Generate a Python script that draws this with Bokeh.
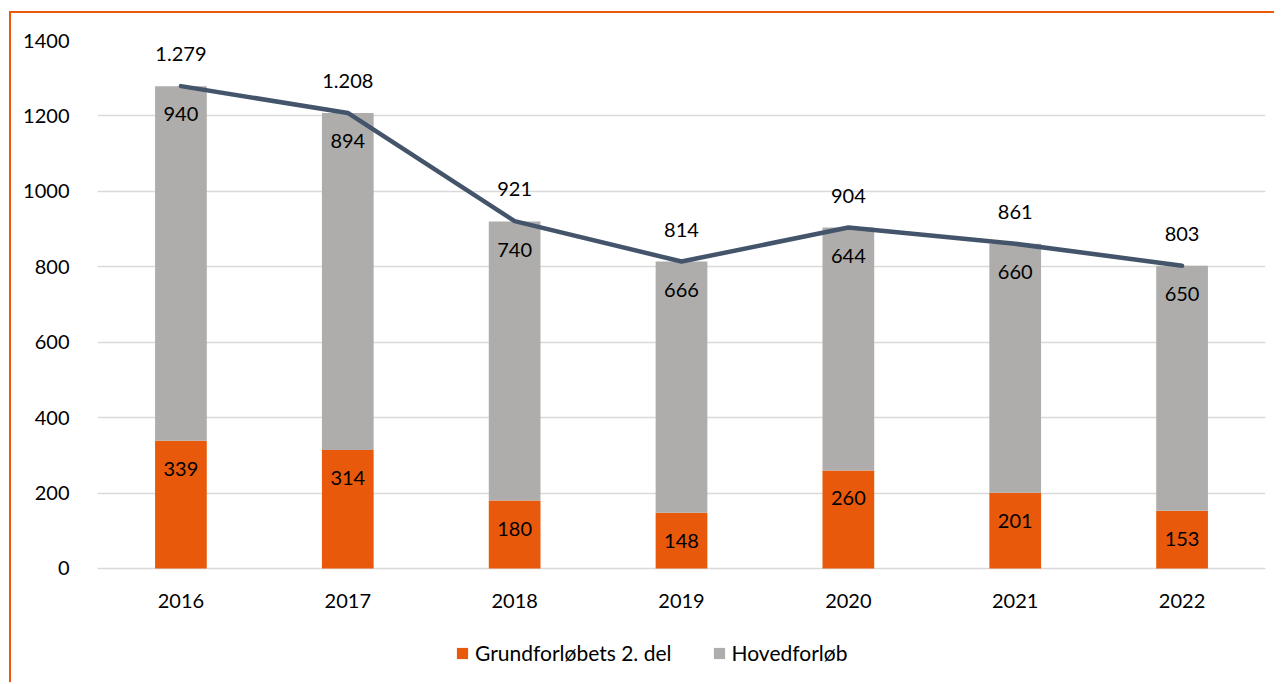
from bokeh.plotting import figure
from bokeh.models import ColumnDataSource, LabelSet, Legend, LegendItem, Range1d, FactorRange
from bokeh.core.properties import value
from bokeh.embed import file_html
from bokeh.resources import INLINE

years = ["2016", "2017", "2018", "2019", "2020", "2021", "2022"]
grund = [339, 314, 180, 148, 260, 201, 153]
hoved = [940, 894, 740, 666, 644, 660, 650]
total = [1279, 1208, 921, 814, 904, 861, 803]
y_ticks = [0, 200, 400, 600, 800, 1000, 1200, 1400]

ORANGE = "#E8590C"
GRAY = "#AEADAB"
LINE = "#44546A"
FONT = "Lato"
FS = "20px"

src = ColumnDataSource(dict(
    year=years,
    grund=grund,
    hoved=hoved,
    stack_top=[g + h for g, h in zip(grund, hoved)],
    total=total,
    grund_lbl=[str(v) for v in grund],
    hoved_lbl=[str(v) for v in hoved],
    total_lbl=[f"{v:,}".replace(",", ".") for v in total],
))

# frame spans down to the canvas bottom so the legend can sit inside it
p = figure(x_range=FactorRange(*years, range_padding=0), y_range=Range1d(-307.6, 1400),
           width=1265, height=671, output_backend="svg", toolbar_location=None,
           x_axis_location=None,
           min_border_left=86, min_border_right=11, min_border_top=27, min_border_bottom=0)
p.styles = {"border-left": f"2px solid {ORANGE}", "border-top": f"2px solid {ORANGE}",
            "margin-top": "11px", "margin-left": "9px"}
p.outline_line_color = None
p.background_fill_color = "white"
p.border_fill_color = "white"

p.xgrid.grid_line_color = None
p.ygrid.grid_line_color = "#D9D9D9"
p.ygrid.grid_line_width = 1.5
p.ygrid.ticker = y_ticks

rs = p.vbar_stack(["grund", "hoved"], x="year", width=0.31, color=[ORANGE, GRAY],
                  line_width=0, source=src)
p.line(x="year", y="total", source=src, line_width=4.5, color=LINE,
       line_join="round", line_cap="round")

common = dict(source=src, text_font=value(FONT), text_font_size=value(FS), text_color="#000000",
              text_align="center", text_baseline="middle")
p.add_layout(LabelSet(x="year", y="total", text="total_lbl", y_offset=32, **common))
p.add_layout(LabelSet(x="year", y="stack_top", text="hoved_lbl", y_offset=-28, **common))
p.add_layout(LabelSet(x="year", y="grund", text="grund_lbl", y_offset=-28, **common))
# category labels under the baseline
p.add_layout(LabelSet(x="year", y=0, text="year", y_offset=-33, **common))

p.yaxis.ticker = y_ticks
p.yaxis.axis_line_color = None
p.yaxis.major_tick_line_color = None
p.yaxis.minor_tick_line_color = None
p.yaxis.major_label_standoff = 22
p.yaxis.major_label_text_font = FONT
p.yaxis.major_label_text_font_size = FS
p.yaxis.major_label_text_color = "#000000"

legend = Legend(items=[LegendItem(label="Grundforløbets 2. del", renderers=[rs[0]]),
                       LegendItem(label="Hovedforløb", renderers=[rs[1]])],
                orientation="horizontal", location=(358, 19),
                glyph_width=14, glyph_height=14, label_standoff=6, spacing=40,
                padding=0, margin=0, border_line_color=None, background_fill_alpha=0,
                label_text_font=FONT, label_text_font_size="21px", label_text_color="#000000")
p.add_layout(legend, "center")

open("out.html", "w").write(file_html(p, INLINE))
